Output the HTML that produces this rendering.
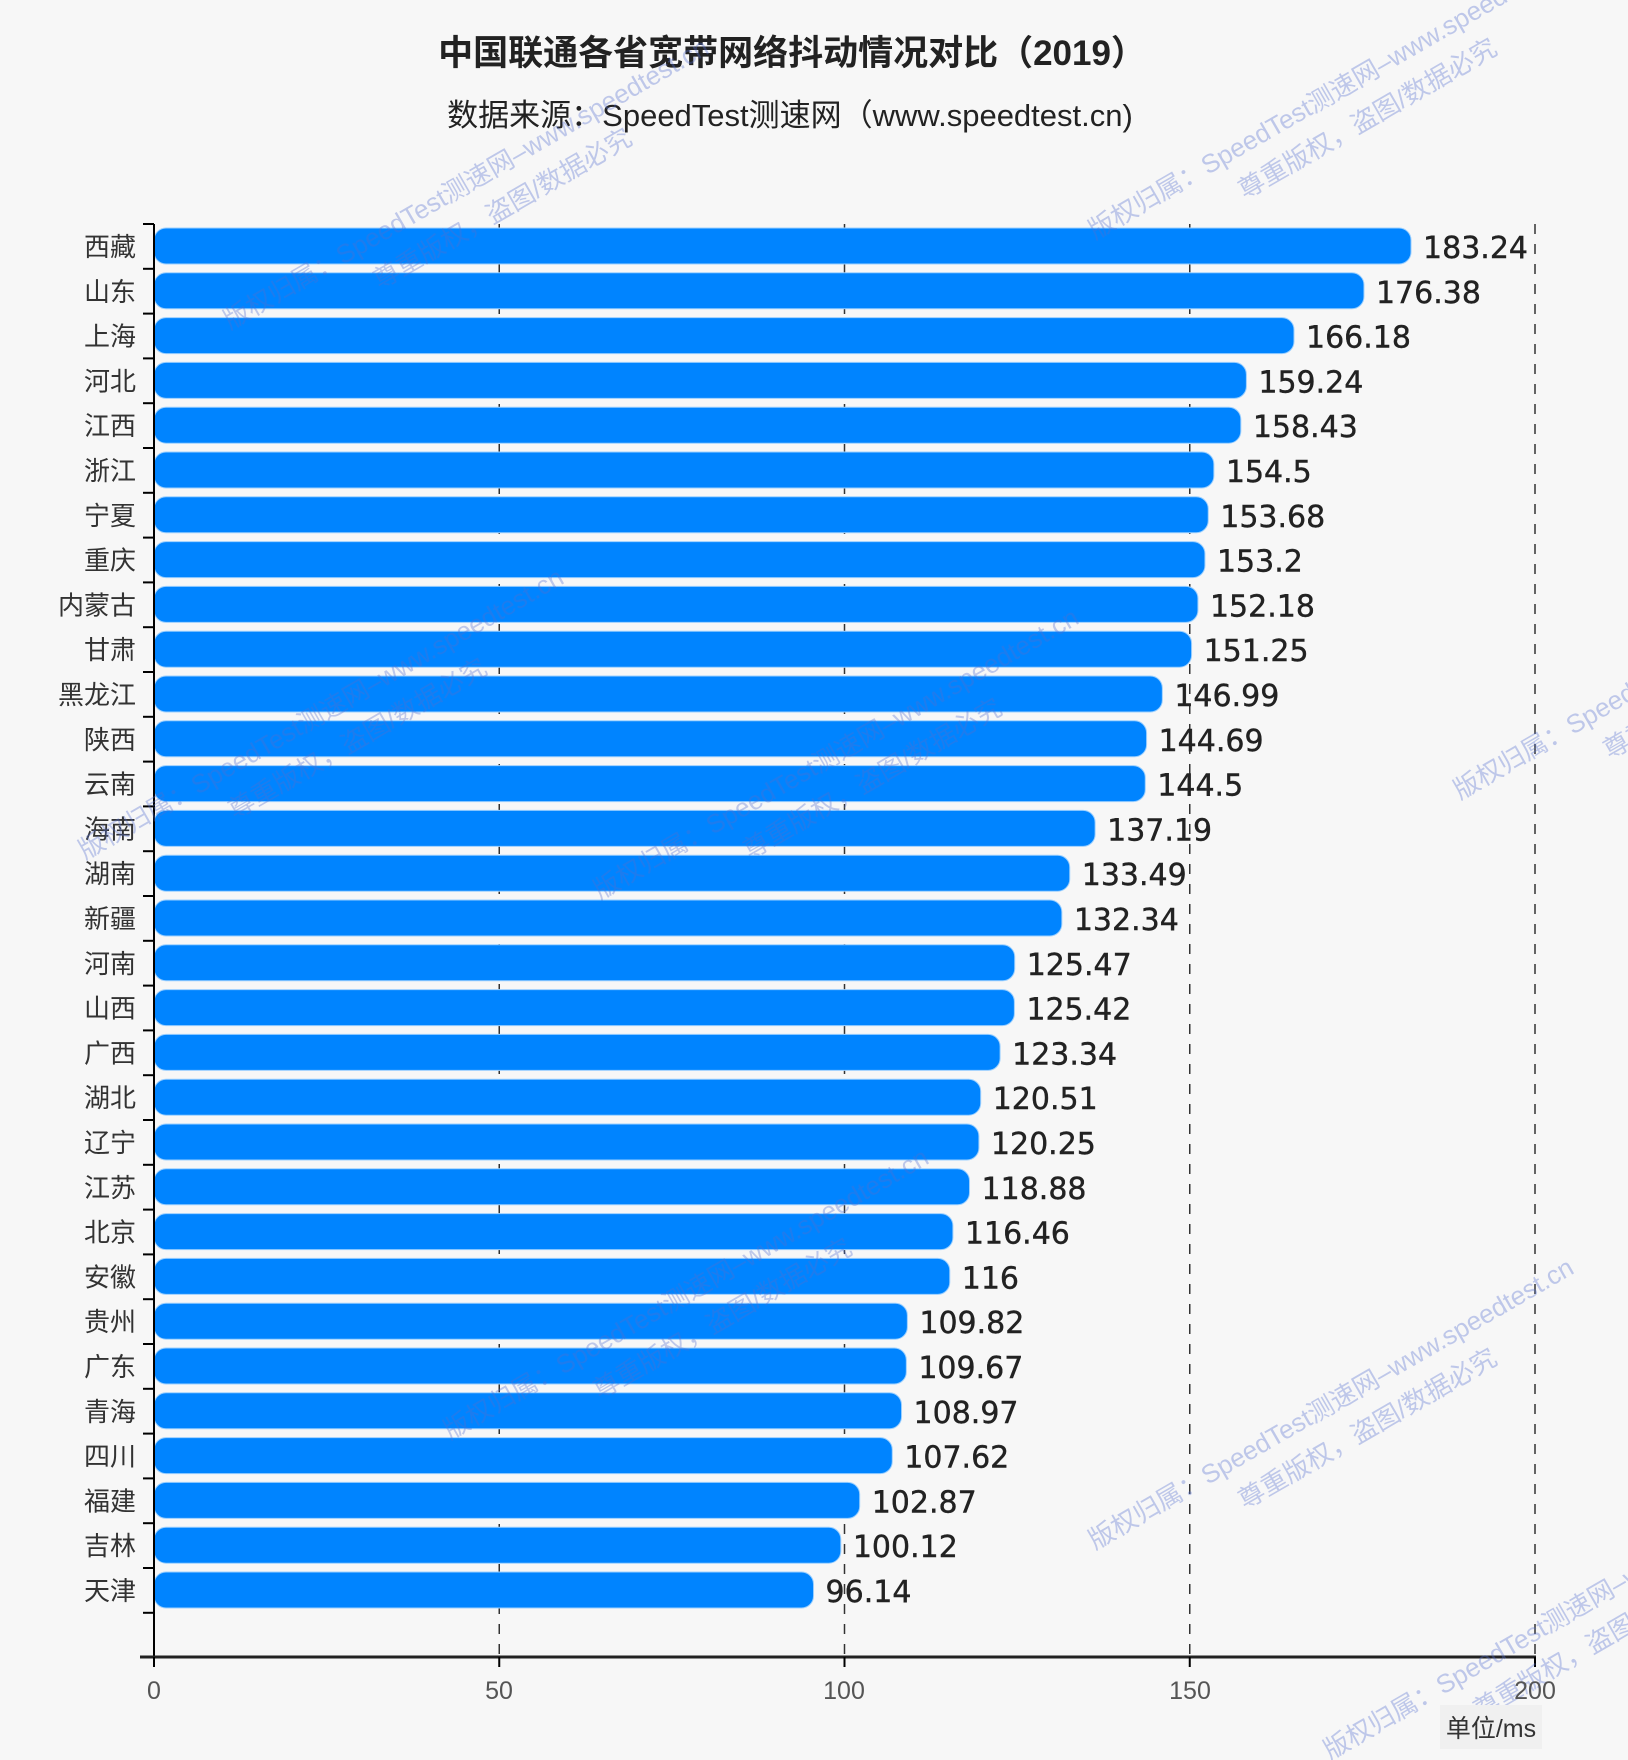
<!DOCTYPE html>
<html><head><meta charset="utf-8"><style>
body{margin:0;background:#f7f7f7;}
svg{display:block}
</style></head><body>
<svg width="1628" height="1760" xmlns="http://www.w3.org/2000/svg">
<rect width="1628" height="1760" fill="#f7f7f7"/>
<text x="792" y="65" text-anchor="middle" font-family="Liberation Sans, Noto Sans CJK SC, sans-serif" font-size="35" font-weight="bold" fill="#222">中国联通各省宽带网络抖动情况对比（2019）</text>
<text x="790" y="126" text-anchor="middle" font-family="Liberation Sans, Noto Sans CJK SC, sans-serif" font-size="31" fill="#222">数据来源：SpeedTest测速网（www.speedtest.cn)</text>
<g id="plot"></g>
<g font-family="Liberation Sans, Noto Sans CJK SC, sans-serif" font-size="25" fill="#555" text-anchor="middle">
<text x="154" y="1699">0</text><text x="499" y="1699">50</text><text x="844" y="1699">100</text><text x="1190" y="1699">150</text><text x="1535" y="1699">200</text>
</g>
<rect x="1440" y="1705" width="102" height="44" fill="#f0f0f0"/>
<text x="1491" y="1737" text-anchor="middle" font-family="Liberation Sans, Noto Sans CJK SC, sans-serif" font-size="25" fill="#333">单位/ms</text>
</svg>
<script>
var d=[["西藏",183.24],["山东",176.38],["上海",166.18],["河北",159.24],["江西",158.43],["浙江",154.5],["宁夏",153.68],["重庆",153.2],["内蒙古",152.18],["甘肃",151.25],["黑龙江",146.99],["陕西",144.69],["云南",144.5],["海南",137.19],["湖南",133.49],["新疆",132.34],["河南",125.47],["山西",125.42],["广西",123.34],["湖北",120.51],["辽宁",120.25],["江苏",118.88],["北京",116.46],["安徽",116],["贵州",109.82],["广东",109.67],["青海",108.97],["四川",107.62],["福建",102.87],["吉林",100.12],["天津",96.14]];
var x0=154,k=6.905,kb=6.86,y0=224,band=44.8,h="";
for(var i=1;i<=4;i++){var gx=x0+i*50*k;h+='<line x1="'+gx+'" y1="'+y0+'" x2="'+gx+'" y2="1657" stroke="#333" stroke-width="1.5" stroke-dasharray="10,10"/>';}
d.forEach(function(r,i){var y=y0+i*band;var w=r[1]*kb;
h+='<rect x="'+x0+'" y="'+(y+4)+'" width="'+w+'" height="36" rx="12" fill="#0084ff" stroke="#9cd0ff" stroke-width="1"/>';
h+='<text x="'+(x0+w+12)+'" y="'+(y+34)+'" font-family="DejaVu Sans, sans-serif" font-size="30" fill="#222" stroke="#222" stroke-width="0.4">'+r[1]+'</text>';
h+='<text x="136" y="'+(y+32)+'" text-anchor="end" font-family="Liberation Sans, Noto Sans CJK SC, sans-serif" font-size="26" fill="#333">'+r[0]+'</text>';});
for(var j=0;j<=31;j++){var ty=y0+j*band;h+='<line x1="143" y1="'+ty+'" x2="154" y2="'+ty+'" stroke="#000" stroke-width="2"/>';}
h+='<line x1="154" y1="'+y0+'" x2="154" y2="1657" stroke="#000" stroke-width="2"/>';
h+='<line x1="140" y1="1657" x2="1536" y2="1657" stroke="#222" stroke-width="3"/>';
for(var i=0;i<=4;i++){var gx=x0+i*50*k;h+='<line x1="'+gx+'" y1="1657" x2="'+gx+'" y2="1667" stroke="#000" stroke-width="2"/>';}
var wm=[[230,330],[1095,240],[85,860],[600,900],[1460,800],[450,1440],[1095,1550],[1330,1760]];
wm.forEach(function(p){h+='<g transform="translate('+p[0]+','+p[1]+') rotate(-30)" font-family="Liberation Sans, Noto Sans CJK SC, sans-serif" font-size="26" fill="#5570d0" opacity="0.35"><text x="0" y="0">版权归属：SpeedTest测速网–www.speedtest.cn</text><text x="150" y="40">尊重版权，盗图/数据必究</text></g>';});
document.getElementById("plot").innerHTML=h;
</script>
</body></html>
